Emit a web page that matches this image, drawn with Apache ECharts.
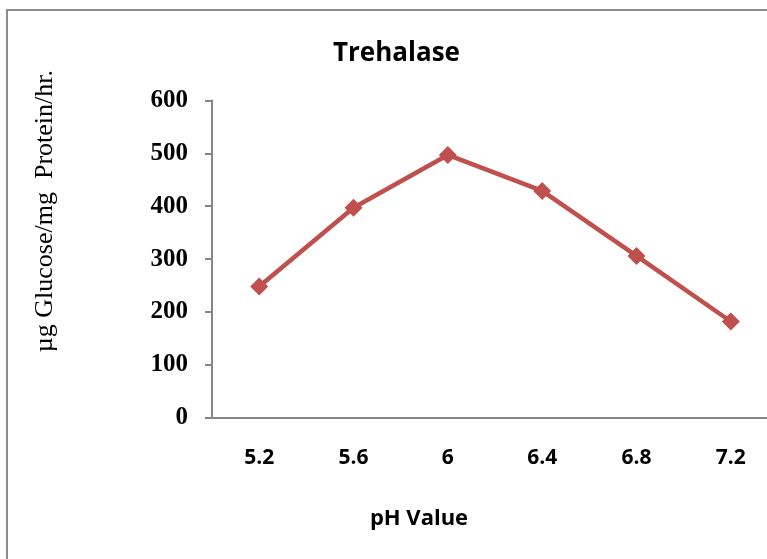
<!DOCTYPE html>
<html>
<head>
<meta charset="utf-8">
<script src="https://cdn.jsdelivr.net/npm/echarts@6/dist/echarts.min.js"></script>
<style>
  html, body { margin: 0; padding: 0; background: #fff; overflow: hidden; }
  #chart { width: 778px; height: 559px; }
</style>
</head>
<body>
<div id="chart"></div>
<script>
// pH values on the x axis
var phLabels = ['5.2', '5.6', '6', '6.4', '6.8', '7.2'];
// trehalase activity, µg Glucose/mg Protein/hr.
var activity = [248, 397, 497, 429, 306, 182];
var yTicks = { min: 0, max: 600, step: 100 };

var myChart = echarts.init(document.getElementById('chart'));
var option = {
  animation: false,
  title: {
    text: 'Trehalase',
    left: 328,
    top: 36,
    textStyle: {
      fontFamily: 'Open Sans',
      fontWeight: 'bold',
      fontSize: 26,
      color: '#000'
    }
  },
  graphic: [
    {
      type: 'rect',
      shape: { x: 7, y: 10, width: 820, height: 600 },
      style: { fill: 'none', stroke: '#8c8c8c', lineWidth: 2 }
    }
  ],
  grid: {
    left: 212,
    right: 0,
    top: 100.5,
    bottom: 141.3
  },
  xAxis: {
    type: 'category',
    data: phLabels,
    boundaryGap: true,
    name: 'pH Value',
    nameLocation: 'middle',
    nameGap: 90,
    nameTextStyle: {
      fontFamily: 'Open Sans',
      fontWeight: 'bold',
      fontSize: 22,
      color: '#000',
      padding: [0, 152, 0, 0]
    },
    axisLine: { lineStyle: { color: '#868686', width: 2 } },
    axisTick: { show: false },
    axisLabel: {
      margin: 30,
      fontFamily: 'Open Sans',
      fontWeight: 'bold',
      fontSize: 21,
      color: '#000'
    },
    splitLine: { show: false }
  },
  yAxis: {
    type: 'value',
    min: yTicks.min,
    max: yTicks.max,
    interval: yTicks.step,
    name: 'µg Glucose/mg  Protein/hr.',
    nameLocation: 'middle',
    nameGap: 154,
    nameTextStyle: {
      fontFamily: 'Liberation Serif',
      fontSize: 26,
      color: '#000',
      padding: [0, 0, 0, 96]
    },
    axisLine: { show: true, lineStyle: { color: '#868686', width: 2 } },
    axisTick: { show: true, inside: false, length: 7, lineStyle: { color: '#868686', width: 2 } },
    axisLabel: {
      margin: 24,
      fontFamily: 'Liberation Serif',
      fontWeight: 'bold',
      fontSize: 25,
      color: '#000'
    },
    splitLine: { show: false }
  },
  series: [
    {
      type: 'line',
      data: activity,
      symbol: 'diamond',
      symbolSize: 18,
      itemStyle: { color: '#C0504D' },
      lineStyle: { color: '#C0504D', width: 4.5 }
    }
  ]
};
myChart.setOption(option);
</script>
</body>
</html>
